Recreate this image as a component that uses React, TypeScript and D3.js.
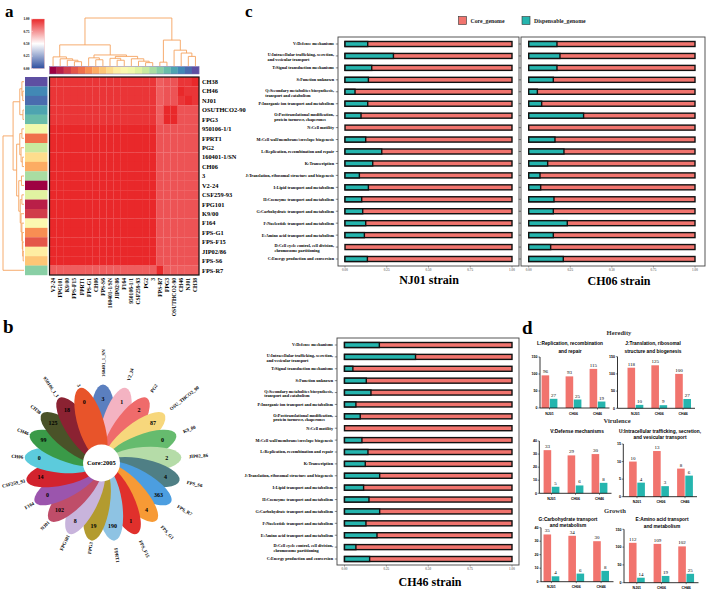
import React from 'react';
import * as d3 from 'd3';

const SERIF = '"Liberation Serif", "Times New Roman", serif';
const SANS = '"Liberation Sans", Arial, sans-serif';
const SALMON = '#F1746E';
const TEAL = '#25B5AE';

// ---------- Panel a data ----------
const strainRows = ['CH38', 'CH46', 'NJ01', 'OSUTHCO2-90', 'FPG3', '950106-1/1', 'FPRT1', 'PG2', '160401-1/SN', 'CH06', '3', 'V2-24', 'CSF259-93', 'FPG101', 'K9/00', 'F164', 'FPS-G1', 'FPS-F15', 'JIP02/86', 'FPS-S6', 'FPS-R7'];
const strainCols = ['V2-24', 'FPG101', 'K9/00', 'FPS-F15', 'FPRT1', 'FPS-G1', 'CH06', 'FPS-S6', '160401-1/SN', 'JIP02/86', 'F164', '950106-1/1', 'CSF259-93', 'PG2', '3', 'FPS-R7', 'FPG3', 'OSUTHCO2-90', 'CH46', 'NJ01', 'CH38'];
const simLevels: Record<string, number> = { a: 1.0, b: 0.97, c: 0.9, d: 0.875 };
const simRows = [
  'bbbbbbbbbbbbbbbdccbba',
  'bbbbbbbbbbbbbbbdccabb',
  'bbbbbbbbbbbbbbbdccbab',
  'bbbbbbbbbbbbbbbdaaccc',
  'bbbbbbbbbbbbbbbdaaccc',
  'aaaaaaaaaaaaaaacccccc',
  'aaaaaaaaaaaaaaacccccc',
  'aaaaaaaaaaaaaaacccccc',
  'aaaaaaaaaaaaaaacccccc',
  'aaaaaaaaaaaaaaacccccc',
  'aaaaaaaaaaaaaaacccccc',
  'aaaaaaaaaaaaaaacccccc',
  'aaaaaaaaaaaaaaacccccc',
  'aaaaaaaaaaaaaaacccccc',
  'aaaaaaaaaaaaaaacccccc',
  'aaaaaaaaaaaaaaacccccc',
  'aaaaaaaaaaaaaaacccccc',
  'aaaaaaaaaaaaaaacccccc',
  'aaaaaaaaaaaaaaacccccc',
  'aaaaaaaaaaaaaaacccccc',
  'dddddddddddddddaddddd',
];
type Tree = number | [number, Tree, Tree];
const colTree: Tree = [1.0,
  [0.44,
    [0.19, 0, [0.15, 1, [0.12, 2, [0.09, 3, 4]]]],
    [0.23, [0.17, 5, [0.13, 6, 7]], [0.2, [0.16, 8, [0.12, 9, 10]], [0.15, 11, [0.1, 12, [0.07, 13, 14]]]]]],
  [0.54, [0.08, 15, 16], [0.33, 17, [0.27, 18, [0.2, 19, 20]]]]];
const rowTree: Tree = [1.0,
  [0.52,
    [0.2, [0.1, 0, [0.06, 1, 2]], [0.05, 3, 4]],
    [0.35,
      [0.2, [0.1, 5, 6], [0.14, 7, [0.08, 8, 9]]],
      [0.25, [0.12, 10, 11], [0.18, [0.1, 12, 13], [0.14, 14, [0.1, 15, [0.08, 16, [0.06, 17, [0.04, 18, 19]]]]]]]]],
  20];
const cbTicks = [0, 0.25, 0.5, 0.75, 1];

// ---------- Panel b data ----------
const flowerNames = ['160401_1_SN', 'V2_24', 'PG2', 'OSU_THCO2_90', 'K9_00', 'JIP02_86', 'FPS_S6', 'FPS_R7', 'FPS_G1', 'FPS_F15', 'FPRT1', 'FPG3', 'FPG101', 'NJ01', 'F164', 'CSF259_93', 'CH06', 'CH46', 'CH38', '950106_1_1', '3'];
const flowerCounts = [3, 1, 2, 87, 0, 2, 4, 363, 4, 1, 190, 19, 8, 102, 0, 14, 0, 99, 125, 18, 0];
const flowerColors = ['#5b7fbf', '#f4b3c2', '#ef6b6b', '#f7d77c', '#66bb6e', '#b5dca8', '#4f7f85', '#4c9ee0', '#f79a35', '#e0302c', '#8ec3e3', '#b39b2f', '#c8b4dc', '#bf4d69', '#9b55ad', '#d2232e', '#5ccbdc', '#3a9a48', '#4a5228', '#8b2232', '#e8542a'];
const coreLabel = 'Core:2005';

// ---------- Panel c data ----------
const cogCats = [
  'V:Defense mechanisms',
  'U:Intracellular trafficking, secretion,\nand vesicular transport',
  'T:Signal transduction mechanisms',
  'S:Function unknown',
  'Q:Secondary metabolites biosynthesis,\ntransport and catabolism',
  'P:Inorganic ion transport and metabolism',
  'O:Posttranslational modification,\nprotein turnover, chaperones',
  'N:Cell motility',
  'M:Cell wall/membrane/envelope biogenesis',
  'L:Replication, recombination and repair',
  'K:Transcription',
  'J:Translation, ribosomal structure and biogenesis',
  'I:Lipid transport and metabolism',
  'H:Coenzyme transport and metabolism',
  'G:Carbohydrate transport and metabolism',
  'F:Nucleotide transport and metabolism',
  'E:Amino acid transport and metabolism',
  'D:Cell cycle control, cell division,\nchromosome partitioning',
  'C:Energy production and conversion',
];
const nj01Disp = [0.136, 0.29, 0.16, 0.14, 0.06, 0.136, 0.096, 0, 0.124, 0.22, 0.166, 0.086, 0.14, 0.10, 0.106, 0.124, 0.116, 0, 0.134];
const ch06Disp = [0.17, 0.188, 0.17, 0.148, 0.052, 0.078, 0.33, 0, 0.158, 0.212, 0.114, 0.068, 0.072, 0.152, 0.148, 0.232, 0.148, 0.132, 0.208];
const ch46Disp = [0.208, 0.424, 0.05, 0.13, 0.158, 0.068, 0.094, 0, 0.104, 0.14, 0.124, 0.21, 0.114, 0.146, 0.21, 0.128, 0.194, 0.068, 0.15];
const propTicks = [0, 0.25, 0.5, 0.75, 1];
const legendKeys = ['Core_genome', 'Dispensable_genome'];

// ---------- Panel d data ----------
const dGroups = ['NJ01', 'CH06', 'CH46'];
const repCore = [96, 93, 115];
const repDisp = [27, 25, 19];
const transCore = [118, 125, 100];
const transDisp = [10, 9, 27];
const defCore = [33, 29, 30];
const defDisp = [5, 6, 8];
const traffCore = [10, 13, 8];
const traffDisp = [4, 3, 6];
const carbCore = [35, 34, 30];
const carbDisp = [4, 6, 8];
const aminoCore = [112, 109, 102];
const aminoDisp = [14, 19, 25];

// ---------- helpers ----------
let _ctx: CanvasRenderingContext2D | null = null;
function textW(s: string, font: string) {
  if (!_ctx) _ctx = document.createElement('canvas').getContext('2d');
  if (!_ctx) return s.length * 2;
  _ctx.font = font;
  return _ctx.measureText(s).width;
}

type Seg = [number, number, number, number];
function dendro(t: Tree): { p: number; h: number; segs: Seg[] } {
  if (typeof t === 'number') return { p: t + 0.5, h: 0, segs: [] };
  const [h, l, r] = t;
  const a = dendro(l), b = dendro(r);
  return {
    p: (a.p + b.p) / 2, h,
    segs: [...a.segs, ...b.segs, [a.p, a.h, a.p, h], [b.p, b.h, b.p, h], [a.p, h, b.p, h]],
  };
}

function PanelA() {
  const hx0 = 49.5, hx1 = 199, hy0 = 77, hy1 = 275;
  const xb = d3.scaleBand().domain(strainCols).range([hx0, hx1]);
  const yb = d3.scaleBand().domain(strainRows).range([hy0, hy1]);
  const color = d3.scaleLinear<string>().domain([0, 0.5, 1]).range(['#2f4f9f', '#ffffff', '#e9282a']);
  const strip = (n: string) => d3.interpolateSpectral(strainCols.indexOf(n) / (strainCols.length - 1));
  const colPos = d3.scaleLinear().domain([0, strainCols.length]).range([hx0, hx1]);
  const colH = d3.scaleLinear().domain([0, 1]).range([66, 18]);
  const rowPos = d3.scaleLinear().domain([0, strainRows.length]).range([hy0, hy1]);
  const rowH = d3.scaleLinear().domain([0, 1]).range([24, 3]);
  const cd = dendro(colTree).segs;
  const rd = dendro(rowTree).segs;
  const cb = d3.scaleLinear().domain([0, 1]).range([68.5, 19]);
  const DC = '#f5a35f';
  return (
    <g>
      <text x={5} y={17} fontSize={17} fontWeight="bold" fontFamily={SERIF}>a</text>
      <defs>
        <linearGradient id="cbg" x1="0" y1="1" x2="0" y2="0">
          {[0, 0.25, 0.5, 0.75, 1].map(v => <stop key={v} offset={v} stopColor={color(v)} />)}
        </linearGradient>
      </defs>
      <rect x={31.5} y={cb(1)} width={13} height={cb(0) - cb(1)} fill="url(#cbg)" stroke="#f3b0b0" strokeWidth={0.4} />
      {cbTicks.map(t => (
        <g key={t}>
          <line x1={31.5} x2={33} y1={cb(t)} y2={cb(t)} stroke="#fff" strokeWidth={0.4} />
          <text x={29.5} y={cb(t)} dy="0.35em" fontSize={3.4} fontWeight="bold" textAnchor="end" fontFamily={SERIF}>{t.toFixed(2)}</text>
        </g>
      ))}
      {cd.map((s, i) => <line key={i} x1={colPos(s[0])} y1={colH(s[1])} x2={colPos(s[2])} y2={colH(s[3])} stroke={DC} strokeWidth={0.9} />)}
      {rd.map((s, i) => <line key={i} x1={rowH(s[1])} y1={rowPos(s[0])} x2={rowH(s[3])} y2={rowPos(s[2])} stroke={DC} strokeWidth={0.9} />)}
      {strainCols.map(c => <rect key={c} x={xb(c)} y={66.5} width={xb.bandwidth() + 0.2} height={7.5} fill={strip(c)} />)}
      <rect x={hx0} y={66.5} width={hx1 - hx0} height={7.5} fill="none" stroke="#7b6fb0" strokeWidth={0.5} />
      {strainRows.map(r => <rect key={r} x={25} y={yb(r)} width={22.5} height={yb.bandwidth() + 0.2} fill={strip(r)} />)}
      {strainRows.map((r, i) => strainCols.map((c, j) => (
        <rect key={r + c} x={xb(c)} y={yb(r)} width={xb.bandwidth() + 0.15} height={yb.bandwidth() + 0.15}
          fill={color(simLevels[simRows[i][j]])} />
      )))}
      <rect x={hx0} y={hy0} width={hx1 - hx0} height={hy1 - hy0} fill="none" stroke="#111" strokeWidth={1.2} />
      {strainRows.map(r => (
        <text key={r} x={202} y={(yb(r) as number) + yb.bandwidth() / 2} dy="0.35em" fontSize={6.4} fontWeight="bold" fontFamily={SERIF}>{r}</text>
      ))}
      {strainCols.map(c => {
        const x = (xb(c) as number) + xb.bandwidth() / 2;
        return <text key={c} transform={`translate(${x},${278}) rotate(-90)`} dy="0.35em" textAnchor="end" fontSize={5.6} fontWeight="bold" fontFamily={SERIF}>{c}</text>;
      })}
    </g>
  );
}

function PanelB() {
  const cx = 103, cy = 463;
  const ang = d3.scaleLinear().domain([0, flowerNames.length]).range([0, 360]);
  const rad = (d: number) => (d * Math.PI) / 180;
  return (
    <g>
      <text x={3} y={333} fontSize={19} fontWeight="bold" fontFamily={SERIF}>b</text>
      {flowerNames.map((n, i) => (
        <ellipse key={n} cx={0} cy={-41} rx={13} ry={37.5} fill={flowerColors[i]}
          transform={`translate(${cx},${cy}) rotate(${ang(i)})`} />
      ))}
      <circle cx={cx - 1.5} cy={cy} r={18.5} fill="#fff" />
      <text x={cx - 1.5} y={cy} dy="0.35em" textAnchor="middle" fontSize={6.5} fontWeight="bold" fontFamily={SERIF}>{coreLabel}</text>
      {flowerNames.map((n, i) => {
        const a = ang(i);
        const r = 64;
        return <text key={n} x={cx + r * Math.sin(rad(a))} y={cy - r * Math.cos(rad(a))} dy="0.35em" textAnchor="middle" fontSize={6} fontWeight="bold" fontFamily={SERIF}>{flowerCounts[i]}</text>;
      })}
      {flowerNames.map((n, i) => {
        const a = ang(i);
        const right = a < 180;
        const r = right ? 86 : 80;
        const x = cx + r * Math.sin(rad(a));
        const y = cy - r * Math.cos(rad(a));
        const rot = right ? a - 90 : a + 90;
        return <text key={n} transform={`translate(${x},${y}) rotate(${rot})`} dy="0.35em" textAnchor={right ? 'start' : 'end'} fontSize={4.8} fontWeight="bold" fontFamily={SERIF}>{n}</text>;
      })}
    </g>
  );
}

type Facet = { name: string; vals: number[]; fx: number; fy: number; fw: number; fh: number; bx0: number; bx1: number; c0: number; c1: number; labels: boolean; tx: number; ty: number };

function Facet({ f }: { f: Facet }) {
  const x = d3.scaleLinear().domain([0, 1]).range([f.bx0, f.bx1]);
  const y = d3.scalePoint().domain(cogCats).range([f.c0, f.c1]);
  const bh = 5.0;
  const FS = 4.2;
  const font = `bold ${FS}px "Liberation Serif"`;
  return (
    <g>
      <rect x={f.fx} y={f.fy} width={f.fw} height={f.fh} fill="#fff" stroke="#444" strokeWidth={0.9} />
      {cogCats.map((c, i) => {
        const yc = y(c) as number;
        const v = f.vals[i];
        return (
          <g key={c}>
            <rect x={x(0)} y={yc - bh / 2} width={x(1) - x(0)} height={bh} fill={SALMON} stroke="#111" strokeWidth={1.4} />
            {v > 0 && <rect x={x(0)} y={yc - bh / 2} width={x(v) - x(0)} height={bh} fill={TEAL} stroke="#111" strokeWidth={1.4} />}
          </g>
        );
      })}
      {propTicks.map(t => (
        <g key={t}>
          <line x1={x(t)} x2={x(t)} y1={f.fy + f.fh} y2={f.fy + f.fh + 1.6} stroke="#444" strokeWidth={0.5} />
          <text x={x(t)} y={f.fy + f.fh + 5} fontSize={3.3} textAnchor="middle" fontFamily={SERIF} fill="#333">{t.toFixed(2)}</text>
        </g>
      ))}
      {cogCats.map(c => {
        const yc = y(c) as number;
        const lines = c.split('\n');
        const lx = f.fx - 4;
        return (
          <g key={c}>
            <line x1={f.fx - 2.2} x2={f.fx} y1={yc} y2={yc} stroke="#333" strokeWidth={0.6} />
            {f.labels && (lines.length === 1 ? (
              <text x={lx} y={yc} dy="0.35em" textAnchor="end" fontSize={FS} fontWeight="bold" fontFamily={SERIF}>{lines[0]}</text>
            ) : (
              <g>
                <text x={lx} y={yc - 1.2} dy="0.35em" textAnchor="end" fontSize={FS} fontWeight="bold" fontFamily={SERIF}>{lines[0]}</text>
                <text x={lx - textW(lines[0], font)} y={yc + 3.4} dy="0.35em" textAnchor="start" fontSize={FS} fontWeight="bold" fontFamily={SERIF}>{lines[1]}</text>
              </g>
            ))}
          </g>
        );
      })}
      <text x={f.tx} y={f.ty} textAnchor="middle" fontSize={12} fontWeight="bold" fontFamily={SERIF}>{f.name}</text>
    </g>
  );
}

function PanelC() {
  const facets: Facet[] = [
    { name: 'NJ01 strain', vals: nj01Disp, fx: 338, fy: 37, fw: 181, fh: 229, bx0: 345, bx1: 512, c0: 44, c1: 259, labels: true, tx: 429, ty: 284 },
    { name: 'CH06 strain', vals: ch06Disp, fx: 521, fy: 37, fw: 184, fh: 229, bx0: 528.7, bx1: 695, c0: 44, c1: 259, labels: false, tx: 619, ty: 285 },
    { name: 'CH46 strain', vals: ch46Disp, fx: 337, fy: 338, fw: 182, fh: 227, bx0: 344.5, bx1: 512, c0: 345, c1: 559, labels: true, tx: 430, ty: 586 },
  ];
  const lg = [
    { k: legendKeys[0], c: SALMON, x: 458.5 },
    { k: legendKeys[1], c: TEAL, x: 522 },
  ];
  return (
    <g>
      <text x={245} y={17} fontSize={17} fontWeight="bold" fontFamily={SERIF}>c</text>
      {lg.map(l => (
        <g key={l.k}>
          <rect x={l.x} y={16.5} width={8} height={8} fill={l.c} stroke="#333" strokeWidth={0.6} />
          <text x={l.x + 12} y={20.5} dy="0.35em" fontSize={5.8} fontWeight="bold" fontFamily={SERIF} fill="#222">{l.k}</text>
        </g>
      ))}
      {facets.map(f => <Facet key={f.name} f={f} />)}
    </g>
  );
}

type DChart = { title: string[]; tx: number; ty: number[]; core: number[]; disp: number[]; max: number; ticks: number[]; ax: number; xr: [number, number]; y0: number; y1: number };

function DChartView({ c }: { c: DChart }) {
  const y = d3.scaleLinear().domain([0, c.max]).range([c.y0, c.y1]);
  const x = d3.scaleBand().domain(dGroups).range(c.xr);
  const bw = 7.6;
  return (
    <g>
      {c.title.map((t, i) => (
        <text key={i} x={c.tx} y={c.ty[i]} dy="0.35em" textAnchor="middle" fontSize={4.8} fontWeight="bold" fontFamily={SANS}>{t}</text>
      ))}
      {dGroups.map((g, i) => {
        const cx = (x(g) as number) + x.bandwidth() / 2;
        return (
          <g key={g}>
            <rect x={cx - bw - 0.3} y={y(c.core[i])} width={bw} height={y(0) - y(c.core[i])} fill={SALMON} />
            <rect x={cx + 0.3} y={y(c.disp[i])} width={bw} height={y(0) - y(c.disp[i])} fill={TEAL} />
            <text x={cx - bw / 2 - 0.3} y={y(c.core[i]) - 2} textAnchor="middle" fontSize={5} fontFamily={SERIF}>{c.core[i]}</text>
            <text x={cx + bw / 2 + 0.3} y={y(c.disp[i]) - 2} textAnchor="middle" fontSize={5} fontFamily={SERIF}>{c.disp[i]}</text>
            <text x={cx} y={c.y0 + 5.5} textAnchor="middle" dy="0.35em" fontSize={3.6} fontWeight="bold" fontFamily={SANS}>{g}</text>
            <line x1={cx} x2={cx} y1={c.y0} y2={c.y0 + 1.5} stroke="#000" strokeWidth={0.5} />
          </g>
        );
      })}
      <line x1={c.ax} x2={c.ax} y1={y(c.max)} y2={c.y0} stroke="#000" strokeWidth={0.8} />
      <line x1={c.ax} x2={c.xr[1]} y1={c.y0} y2={c.y0} stroke="#000" strokeWidth={0.8} />
      {c.ticks.map(t => (
        <g key={t}>
          <line x1={c.ax - 1.6} x2={c.ax} y1={y(t)} y2={y(t)} stroke="#000" strokeWidth={0.5} />
          <text x={c.ax - 2.4} y={y(t)} dy="0.35em" textAnchor="end" fontSize={3.6} fontWeight="bold" fontFamily={SANS}>{t}</text>
        </g>
      ))}
    </g>
  );
}

function PanelD() {
  const charts: DChart[] = [
    { title: ['L:Replication, recombination', 'and repair'], tx: 570, ty: [343, 351], core: repCore, disp: repDisp, max: 150, ticks: [0, 50, 100, 150], ax: 540, xr: [537.5, 609.5], y0: 408, y1: 357 },
    { title: ['J:Translation, ribosomal', 'structure and biogenesis'], tx: 653, ty: [343, 351], core: transCore, disp: transDisp, max: 150, ticks: [0, 50, 100, 150], ax: 617.5, xr: [623.5, 695], y0: 408.3, y1: 356.7 },
    { title: ['V:Defense mechanisms'], tx: 577, ty: [431.7], core: defCore, disp: defDisp, max: 40, ticks: [0, 10, 20, 30, 40], ax: 539.3, xr: [539.5, 611.5], y0: 493.3, y1: 441 },
    { title: ['U:Intracellular trafficking, secretion,', 'and vesicular transport'], tx: 660, ty: [431.5, 437], core: traffCore, disp: traffDisp, max: 15, ticks: [0, 5, 10, 15], ax: 623.3, xr: [625, 697], y0: 496.7, y1: 444 },
    { title: ['G:Carbohydrate transport', 'and metabolism'], tx: 568, ty: [519.3, 525.5], core: carbCore, disp: carbDisp, max: 40, ticks: [0, 10, 20, 30, 40], ax: 541, xr: [539, 613.5], y0: 581.7, y1: 527.7 },
    { title: ['E:Amino acid transport', 'and metabolism'], tx: 662, ty: [519.3, 526], core: aminoCore, disp: aminoDisp, max: 150, ticks: [0, 50, 100, 150], ax: 624, xr: [624.5, 698.5], y0: 582.7, y1: 529.3 },
  ];
  const groups = [
    { t: 'Heredity', x: 619, y: 333 },
    { t: 'Virulence', x: 617, y: 421 },
    { t: 'Growth', x: 615, y: 511 },
  ];
  return (
    <g>
      <text x={522} y={334} fontSize={19} fontWeight="bold" fontFamily={SERIF}>d</text>
      {groups.map(g => <text key={g.t} x={g.x} y={g.y} dy="0.35em" textAnchor="middle" fontSize={6.6} fontWeight="bold" fontFamily={SERIF} fill="#333">{g.t}</text>)}
      {charts.map((c, i) => <DChartView key={i} c={c} />)}
    </g>
  );
}

export default function App() {
  return (
    <svg width={708} height={591} style={{ position: 'absolute', left: 0, top: 0, background: '#fff' }} fontFamily={SERIF}>
      <rect width={708} height={591} fill="#fff" />
      <PanelA />
      <PanelB />
      <PanelC />
      <PanelD />
    </svg>
  );
}
